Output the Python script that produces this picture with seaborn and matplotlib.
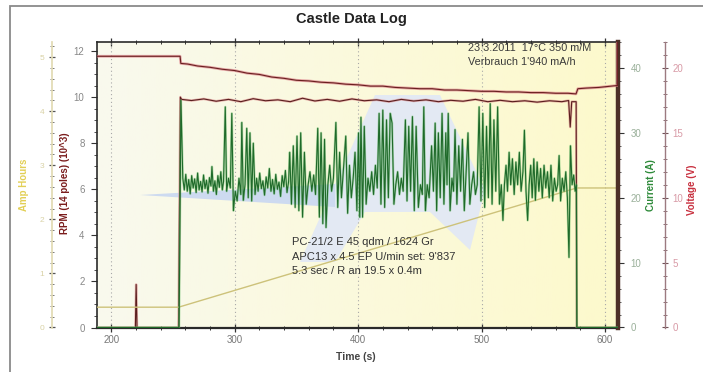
import numpy as np
import pandas as pd
import matplotlib
matplotlib.use("Agg")
import matplotlib.pyplot as plt
import seaborn as sns
from matplotlib.patches import Rectangle, Polygon
from matplotlib.ticker import MultipleLocator
from matplotlib.colors import LinearSegmentedColormap

sns.set_theme(style="white")
plt.rcParams['font.family'] = ['Liberation Sans', 'DejaVu Sans']

# ---------------- data ----------------
title = "Castle Data Log"
info_top = ["23.3.2011  17°C 350 m/M", "Verbrauch 1'940 mA/h"]
info_mid = ["PC-21/2 E 45 qdm / 1624 Gr", "APC13 x 4.5 EP U/min set: 9'837", "5.3 sec / R an 19.5 x 0.4m"]

# RPM (x1000)
rpm_t = [188.5, 219.6, 220.2, 220.9, 254.5, 256.0, 257.0, 265, 275, 285, 295, 305, 315, 325, 335,
         345, 355, 365, 375, 385, 395, 405, 415, 425, 435, 445, 455, 465, 475, 485, 495, 505,
         515, 525, 535, 545, 555, 565, 570.5, 571.8, 573.0, 576.6, 577.1, 610.5]
rpm_v = [0, 0, 1.87, 0, 0, 10.0, 9.9, 9.85, 9.92, 9.82, 9.9, 9.8, 9.93, 9.84, 9.88,
         9.8, 9.95, 9.83, 9.9, 9.82, 9.92, 9.84, 9.88, 9.8, 9.9, 9.83, 9.88, 9.8, 9.86, 9.82, 9.9, 9.8,
         9.86, 9.8, 9.84, 9.78, 9.84, 9.8, 9.85, 8.7, 9.8, 9.8, 0, 0]

# Voltage (V)
volt_t = [188.5, 255.8, 256.4, 262, 270, 280, 290, 300, 310, 320, 330, 340, 350, 360, 370, 380,
          390, 400, 410, 420, 430, 440, 450, 460, 470, 480, 490, 500, 510, 520, 530, 540, 550,
          560, 570, 576.5, 578.0, 585, 595, 605, 610.2, 610.2]
volt_v = [20.9, 20.9, 20.35, 20.3, 20.15, 20.05, 19.9, 19.8, 19.6, 19.5, 19.3, 19.2, 19.05, 19.0,
          18.9, 18.85, 18.75, 18.7, 18.6, 18.6, 18.5, 18.45, 18.4, 18.4, 18.3, 18.3, 18.25, 18.2,
          18.2, 18.15, 18.15, 18.1, 18.1, 18.05, 18.05, 18.0, 18.4, 18.45, 18.5, 18.6, 18.65, 22.5]

# Current (A)
cur_t = [188.5, 255.0, 256.5, 258.0, 259.2, 260.4, 261.6, 262.8, 264.0, 265.2, 266.4, 267.6, 268.8,
         270.0, 271.2, 272.4, 273.6, 274.8, 276.0, 277.2, 278.4, 279.6, 280.8, 281.6, 282.8, 284.0,
         285.2, 286.4, 287.6, 288.8, 290.0,
         291.0, 292.4, 293.5, 295.0, 296.5, 297.7, 299.0, 300.5, 302.0, 303.5, 305.0, 305.8, 307.0,
         308.4, 309.8, 311.0, 312.4, 313.8, 315.1, 316.5,
         317.8, 319.0, 320.3, 321.6, 322.9, 324.2, 325.5, 326.8, 328.1, 329.4, 330.7, 332.0, 333.3,
         334.6, 335.9, 337.2, 338.5, 339.8, 341.1, 342.4, 343.7,
         344.6, 346.0, 347.5, 349.0, 350.5, 352.0, 353.5, 355.0, 356.5, 358.0,
         359.5, 361.0, 362.5, 364.0, 365.5,
         367.3, 368.6, 370.0, 371.4, 372.8, 374.0,
         375.5, 377.0, 378.5, 380.0,
         382.0, 383.5, 385.0, 386.5, 388.0,
         390.0, 391.5, 393.0, 394.5, 396.0,
         397.5, 399.0, 400.3, 401.3, 402.3, 403.6, 405.0, 406.5,
         408.0, 409.5, 411.0, 412.5, 414.0, 415.5,
         417.0, 418.5, 420.0, 421.5, 423.0, 424.5, 426.0, 427.5, 429.0,
         430.5, 432.0, 433.5, 435.0, 436.5,
         438.3, 439.6, 441.0, 442.5, 444.0, 445.5, 447.0, 448.8,
         450.5, 452.0, 453.2, 454.5, 456.0, 457.5,
         459.5, 461.0, 462.4, 463.6, 465.0, 466.5, 468.0, 469.5, 471.0, 472.0, 473.0, 474.5,
         476.0, 477.3, 478.5, 480.0, 481.5, 483.0, 484.5, 486.0, 487.5, 489.0, 490.5,
         492.0, 493.5, 495.0, 496.5,
         498.0, 499.5, 501.0, 502.5, 504.0, 505.5, 507.0, 508.5, 510.0, 511.5, 513.0, 514.5, 516.0,
         517.3, 518.5,
         519.8, 521.0, 522.3, 523.6, 525.0, 526.4, 527.8, 529.2, 530.6, 532.0, 533.5, 534.7, 536.0,
         537.3, 538.5,
         539.8, 541.0, 542.3, 543.6, 545.0, 546.4, 547.8, 549.2, 550.6, 552.0, 553.4, 554.8, 556.2,
         557.6, 559.0, 560.4, 561.6, 562.8, 564.0, 565.4, 566.8, 568.2, 569.5, 570.8, 572.0, 573.3,
         574.6, 575.8, 576.8, 577.2, 610.5]
cur_a = [0, 0, 35.0, 23.0, 21.2, 23.6, 21.0, 22.8, 20.6, 23.4, 21.5, 22.9, 20.8,
         23.8, 21.2, 22.5, 20.9, 23.5, 21.4, 22.7, 20.7, 23.1, 21.8, 24.8, 21.0, 22.6,
         20.5, 23.4, 21.6, 24.0, 21.2,
         22.5, 34.0, 21.0, 23.0, 21.5, 33.0, 18.0, 21.0, 19.5, 23.0, 20.5, 31.6, 19.6,
         22.0, 30.7, 20.0, 30.0, 19.5, 28.4, 20.5,
         23.0, 21.0, 23.8, 21.4, 22.6, 20.4, 23.2, 21.5, 24.5, 21.0, 22.8, 20.6, 23.6,
         21.3, 22.4, 20.2, 23.4, 21.7, 24.2, 20.8, 22.5,
         27.0, 19.0, 28.0, 18.5, 29.5, 18.0, 30.0, 17.0, 27.0, 19.0,
         22.0, 24.0, 21.0, 23.5, 20.5,
         30.7, 17.0, 30.0, 16.0, 29.0, 15.4,
         22.0, 25.0, 21.0, 23.0,
         31.6, 18.5, 27.0, 20.0, 24.0,
         29.5, 17.6, 25.0, 20.0, 23.0,
         27.0, 18.0, 30.0, 17.0, 32.4, 17.0, 31.0, 19.0,
         23.0, 21.0, 24.0, 20.5, 25.0, 21.5,
         33.0, 19.0, 33.5, 18.5, 32.0, 20.0, 33.0, 31.5, 19.0,
         22.0, 24.0, 20.5, 23.0, 21.0,
         32.0, 19.5, 31.0, 21.0, 32.5, 18.0, 31.0, 18.5,
         22.0, 20.5, 34.0, 18.0, 22.0, 20.0,
         28.0, 21.0, 31.5, 18.0, 30.0, 20.0, 33.0, 19.0, 30.0, 22.0, 33.0, 18.0,
         23.0, 21.0, 30.5, 19.0, 28.0, 21.0, 29.0, 18.0, 24.0, 30.0, 19.0,
         22.0, 24.0, 20.5, 22.0,
         34.0, 19.5, 33.0, 18.5, 31.0, 20.0, 34.5, 19.0, 32.0, 21.0, 34.0, 19.0, 22.0,
         16.5, 22.0,
         25.0, 21.0, 27.0, 22.0, 26.0, 20.5, 25.5, 22.0, 27.0, 21.0, 24.0, 30.4, 21.0,
         16.5, 22.0,
         25.0, 20.0, 26.0, 19.6, 25.5, 21.0, 24.5, 20.0, 25.0, 21.5, 24.0, 20.0, 25.0,
         19.5, 23.0, 21.0, 22.0, 26.5, 19.5, 23.0, 21.0, 24.0, 20.0, 10.8, 28.0, 22.0,
         23.5, 21.0, 22.0, 0, 0]

# Amp hours
ah_t = [188.5, 254.6, 577.0, 610.5]
ah_v = [0.375, 0.375, 2.58, 2.58]

# ---------------- figure ----------------
W, H = 703, 372
fig = plt.figure(figsize=(W / 100, H / 100), dpi=100)
fig.patch.set_facecolor("white")

L, R, T, B = 97, 618, 42, 328
ax = fig.add_axes([L / W, 1 - B / H, (R - L) / W, (B - T) / H])
ax.set_facecolor("none")

# background gradient of plot area
cmap = LinearSegmentedColormap.from_list("bg", ["#f9f9ee", "#fbf9dc", "#fdf9cc"])
grad = np.linspace(0, 1, 256).reshape(1, -1)
ax.imshow(grad, extent=[0, 1, 0, 1], transform=ax.transAxes, aspect="auto",
          cmap=cmap, zorder=0, interpolation="bicubic")

def axpt(px, py):
    return ((px - L) / (R - L), (B - py) / (B - T))

# faint watermark logo (opaque pale blue)
ax.add_patch(Polygon([axpt(300, 262), axpt(375, 95), axpt(440, 95), axpt(485, 190),
                      axpt(470, 250), axpt(430, 212), axpt(365, 212), axpt(335, 262)],
                     closed=True, transform=ax.transAxes, fc="#e3e9f3", ec="none", zorder=1))
ax.add_patch(Polygon([axpt(140, 195), axpt(335, 184), axpt(335, 207)], closed=True,
                     transform=ax.transAxes, fc="#cddaf0", ec="none", zorder=1))

ax.set_xlim(188.5, 610.5)
ax.set_ylim(-0.02, 12.39)
ax.xaxis.set_major_locator(MultipleLocator(100))
ax.xaxis.set_minor_locator(MultipleLocator(20))
ax.yaxis.set_major_locator(MultipleLocator(2))
ax.yaxis.set_minor_locator(MultipleLocator(0.5))
ax.grid(False)
for xv in range(200, 601, 100):
    ax.axvline(xv, color="#a8a8a8", lw=0.8, ls=(0, (1, 2.5)), zorder=1.5)

ax.tick_params(axis="x", which="major", direction="inout", length=6, width=0.9,
               top=True, bottom=True, labelsize=7, labelcolor="#777777", color="#333333", pad=2)
ax.tick_params(axis="x", which="minor", direction="inout", length=3.5, width=0.7,
               top=True, bottom=True, color="#333333")
ax.tick_params(axis="y", which="major", direction="out", length=4, width=0.8,
               left=True, right=False, labelsize=7, labelcolor="#888888", color="#333333", pad=5)
ax.tick_params(axis="y", which="minor", direction="out", length=2, width=0.6,
               left=True, right=False, color="#333333")
for s in ["left", "top", "bottom"]:
    ax.spines[s].set_color("#2a2a2a")
    ax.spines[s].set_linewidth(1.2)
ax.spines["bottom"].set_linewidth(1.6)
ax.spines["right"].set_visible(False)
ax.set_xlabel("")
ax.set_ylabel("")

# twin axes
ax_ah = ax.twinx()
ax_cur = ax.twinx()
ax_volt = ax.twinx()
for a in (ax_ah, ax_cur, ax_volt):
    a.set_facecolor("none")
    a.grid(False)
    for s in ["top", "bottom", "left", "right"]:
        a.spines[s].set_visible(False)

# amp hours axis (far left)
ax_ah.set_ylim(-0.01, 5.28)
ax_ah.yaxis.set_ticks_position("left")
ax_ah.spines["left"].set_visible(True)
ax_ah.spines["left"].set_position(("axes", (52 - L) / (R - L)))
ax_ah.spines["left"].set_color("#e2dbb4")
ax_ah.yaxis.set_major_locator(MultipleLocator(1))
ax_ah.yaxis.set_minor_locator(MultipleLocator(0.2))
ax_ah.tick_params(axis="y", which="major", direction="inout", length=5, width=0.9,
                  labelsize=6, labelcolor="#d9d2a6", color="#555555", pad=3)
ax_ah.tick_params(axis="y", which="minor", direction="inout", length=2.5, width=0.6,
                  color="#666666")

# current axis (plot right edge)
ax_cur.set_ylim(-0.08, 44.0)
ax_cur.spines["right"].set_visible(True)
ax_cur.spines["right"].set_color("#4d3026")
ax_cur.spines["right"].set_linewidth(3.2)
ax_cur.yaxis.set_major_locator(MultipleLocator(10))
ax_cur.yaxis.set_minor_locator(MultipleLocator(2))
ax_cur.tick_params(axis="y", which="major", direction="out", length=4, width=0.8,
                   labelsize=7, labelcolor="#9ab09a", color="#333333", pad=5)
ax_cur.tick_params(axis="y", which="minor", direction="out", length=2, width=0.6,
                   color="#444444")

# voltage axis (outer right)
ax_volt.set_ylim(-0.04, 22.0)
ax_volt.spines["right"].set_visible(True)
ax_volt.spines["right"].set_position(("axes", (665 - L) / (R - L)))
ax_volt.spines["right"].set_color("#9c7a80")
ax_volt.spines["right"].set_linewidth(1.0)
ax_volt.yaxis.set_major_locator(MultipleLocator(5))
ax_volt.yaxis.set_minor_locator(MultipleLocator(1))
ax_volt.tick_params(axis="y", which="major", direction="inout", length=5, width=0.8,
                    labelsize=7, labelcolor="#d89aa6", color="#6e5056", pad=3)
ax_volt.tick_params(axis="y", which="minor", direction="inout", length=2.5, width=0.6,
                    color="#7a5a60")

# ---------------- series ----------------
sns.lineplot(x=ah_t, y=ah_v, ax=ax_ah, estimator=None, sort=False,
             color="#cdc27a", linewidth=1.0, zorder=3)

sns.lineplot(x=cur_t, y=cur_a, ax=ax_cur, estimator=None, sort=False,
             color="#6fc070", linewidth=1.7, alpha=0.5, zorder=3)
sns.lineplot(x=cur_t, y=cur_a, ax=ax_cur, estimator=None, sort=False,
             color="#1f6a2a", linewidth=0.8, zorder=4)

sns.lineplot(x=rpm_t, y=rpm_v, ax=ax, estimator=None, sort=False,
             color="#dc8a8a", linewidth=1.8, alpha=0.6, zorder=5)
sns.lineplot(x=rpm_t, y=rpm_v, ax=ax, estimator=None, sort=False,
             color="#5a1e1e", linewidth=0.8, zorder=6)

sns.lineplot(x=volt_t, y=volt_v, ax=ax_volt, estimator=None, sort=False,
             color="#dc7e88", linewidth=2.0, alpha=0.65, zorder=5)
sns.lineplot(x=volt_t, y=volt_v, ax=ax_volt, estimator=None, sort=False,
             color="#6a2020", linewidth=0.8, zorder=6)

for a in (ax, ax_ah, ax_cur, ax_volt):
    a.set_xlabel("")
    a.set_ylabel("")
    if a.get_legend():
        a.get_legend().remove()
ax.set_xlim(188.5, 610.5)
ax.set_ylim(-0.02, 12.39)

# ---------------- text ----------------
fig.text(351 / W, 1 - 19 / H, title, ha="center", va="center", fontsize=10.5,
         fontweight="bold", color="#222222")
fig.text(356 / W, 1 - 357 / H, "Time (s)", ha="center", va="center", fontsize=7.5,
         fontweight="bold", color="#444444")
fig.text(65 / W, 1 - 183 / H, "RPM (14 poles) (10^3)", ha="center", va="center",
         rotation=90, fontsize=7, fontweight="bold", color="#7a1c1c")
fig.text(24 / W, 1 - 185 / H, "Amp Hours", ha="center", va="center",
         rotation=90, fontsize=7, fontweight="bold", color="#e2cf55")
fig.text(651 / W, 1 - 185 / H, "Current (A)", ha="center", va="center",
         rotation=90, fontsize=7, fontweight="bold", color="#2e8a3a")
fig.text(692 / W, 1 - 190 / H, "Voltage (V)", ha="center", va="center",
         rotation=90, fontsize=7, fontweight="bold", color="#c8303f")

for i, line in enumerate(info_top):
    fig.text(468 / W, 1 - (48 + 14 * i) / H, line, ha="left", va="center",
             fontsize=7.8, color="#3a3a3a")
for i, line in enumerate(info_mid):
    fig.text(292 / W, 1 - (242 + 14.5 * i) / H, line, ha="left", va="center",
             fontsize=8, color="#333333")

# outer frame of the screenshot
fig.patches.append(Rectangle((10 / W, -0.1), 1.2, 1.1 - 6 / H, transform=fig.transFigure,
                             fill=False, ec="#8a8a8a", lw=1.3))

fig.savefig("out.png", dpi=100)
